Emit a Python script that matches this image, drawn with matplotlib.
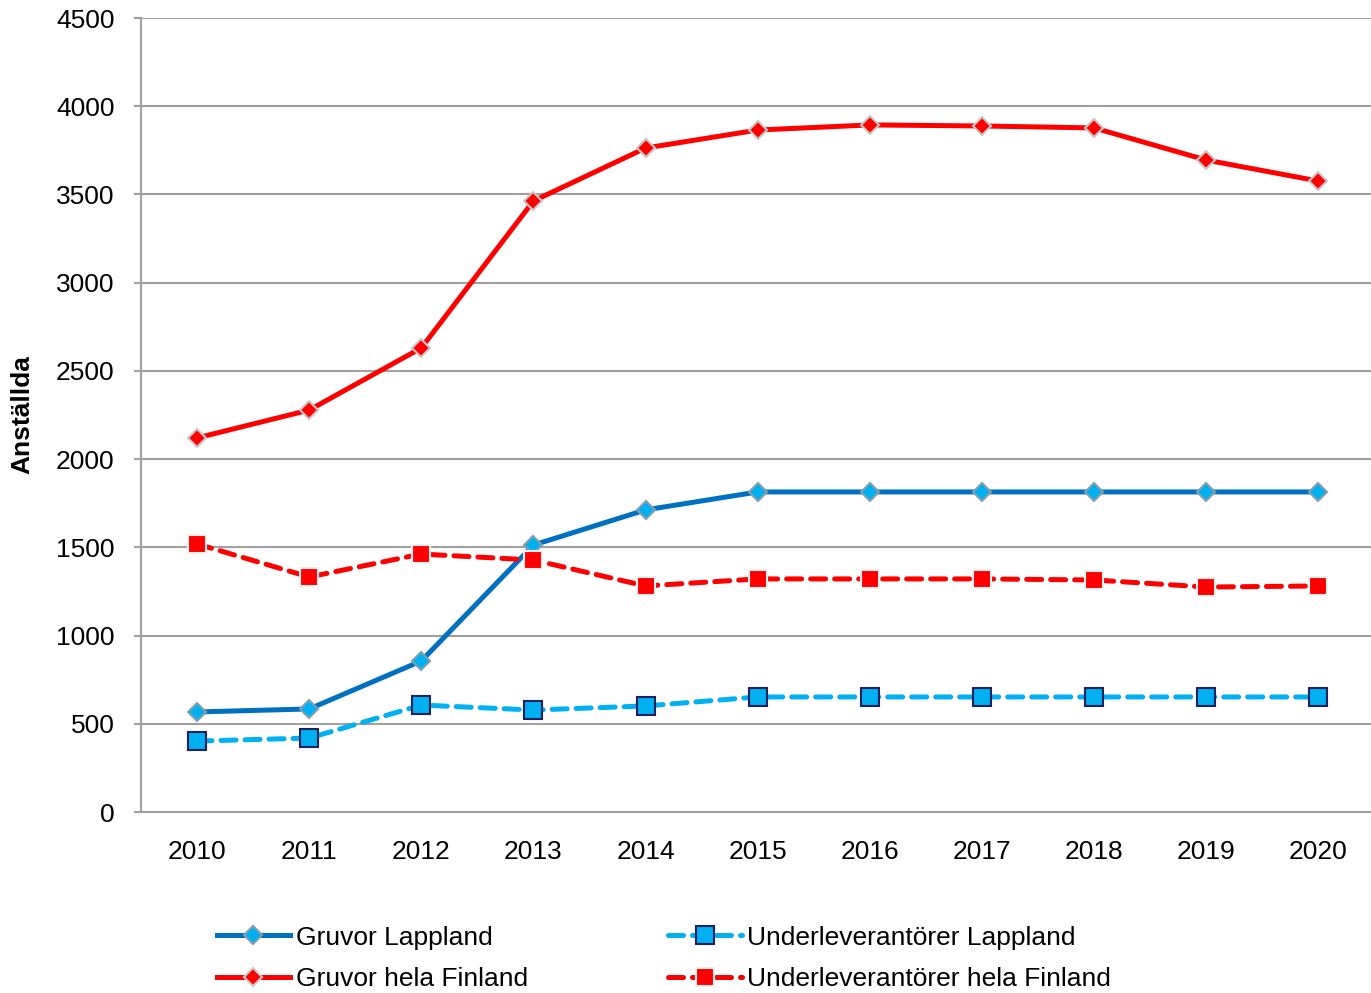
import matplotlib
matplotlib.use('Agg')
import matplotlib.pyplot as plt
from matplotlib.font_manager import fontManager

years = [2010, 2011, 2012, 2013, 2014, 2015, 2016, 2017, 2018, 2019, 2020]
gruvor_lappland = [567, 584, 856, 1513, 1712, 1814, 1814, 1814, 1814, 1814, 1814]
gruvor_finland = [2120, 2278, 2630, 3463, 3763, 3865, 3894, 3888, 3877, 3695, 3576]
underlev_lappland = [402, 419, 606, 578, 601, 652, 652, 652, 652, 652, 652]
underlev_finland = [1519, 1332, 1462, 1428, 1281, 1321, 1321, 1321, 1315, 1275, 1281]
yticks = list(range(0, 4501, 500))

plt.rcParams['font.family'] = ['Liberation Sans', 'DejaVu Sans']
names = {f.name for f in fontManager.ttflist}
ylab_font = 'Liberation Sans Narrow' if 'Liberation Sans Narrow' in names else 'Liberation Sans'

fig = plt.figure(figsize=(13.71, 9.93), dpi=100)
ax = fig.add_axes([141 / 1371, 1 - 812 / 993, 1 - 141 / 1371, (812 - 18) / 993])

x = list(range(len(years)))
lw = 3.6
h1, = ax.plot(x, gruvor_lappland, color='#0070C0', lw=lw, marker='D', ms=9.5,
              mfc='#00B0F0', mec='#7F9FAF', mew=1.5, label='Gruvor Lappland', zorder=4)
h2, = ax.plot(x, gruvor_finland, color='#FF0000', lw=lw, marker='D', ms=9.5,
              mfc='#FF0000', mec='#C8C8C8', mew=1.5, label='Gruvor hela Finland', zorder=4)
h3, = ax.plot(x, underlev_lappland, color='#00B0F0', lw=lw, ls=(0, (3, 1.8)),
              dash_capstyle='round', marker='s', ms=13, mfc='#00B0F0', mec='#1F2060',
              mew=1.5, label='Underleverantörer Lappland', zorder=4)
h4, = ax.plot(x, underlev_finland, color='#FF0000', lw=lw, ls=(0, (3, 1.8)),
              dash_capstyle='round', marker='s', ms=13, mfc='#FF0000', mec='#F0F0F0',
              mew=1.5, label='Underleverantörer hela Finland', zorder=4)

ax.set_xlim(-0.5, 10.47)
ax.set_ylim(0, 4500)
ax.set_yticks(yticks)
ax.set_xticks(x)
ax.set_xticklabels([str(y) for y in years])
ax.yaxis.grid(True, color='#A0A0A0', lw=1.5)
ax.set_axisbelow(True)
for s in ['top', 'right']:
    ax.spines[s].set_visible(False)
for s in ['left', 'bottom']:
    ax.spines[s].set_color('#A0A0A0')
    ax.spines[s].set_linewidth(1.5)
ax.tick_params(axis='y', length=5, width=1.5, color='#A0A0A0', labelsize=19, pad=14)
ax.tick_params(axis='x', length=0, labelsize=19, pad=20)

fig.text(22 / 1371, 1 - 415 / 993, 'Anställda', rotation=90, ha='center', va='center',
         fontsize=19, fontweight='bold', family=ylab_font)

fig.legend(handles=[h1, h2, h3, h4], ncol=2, loc='upper left',
           bbox_to_anchor=(206 / 1371, 1 - 915 / 993), frameon=False,
           fontsize=19, numpoints=1, handlelength=2.8, handletextpad=0.2,
           columnspacing=5.3, labelspacing=0.68, borderaxespad=0)

fig.savefig('out.png', dpi=100)
